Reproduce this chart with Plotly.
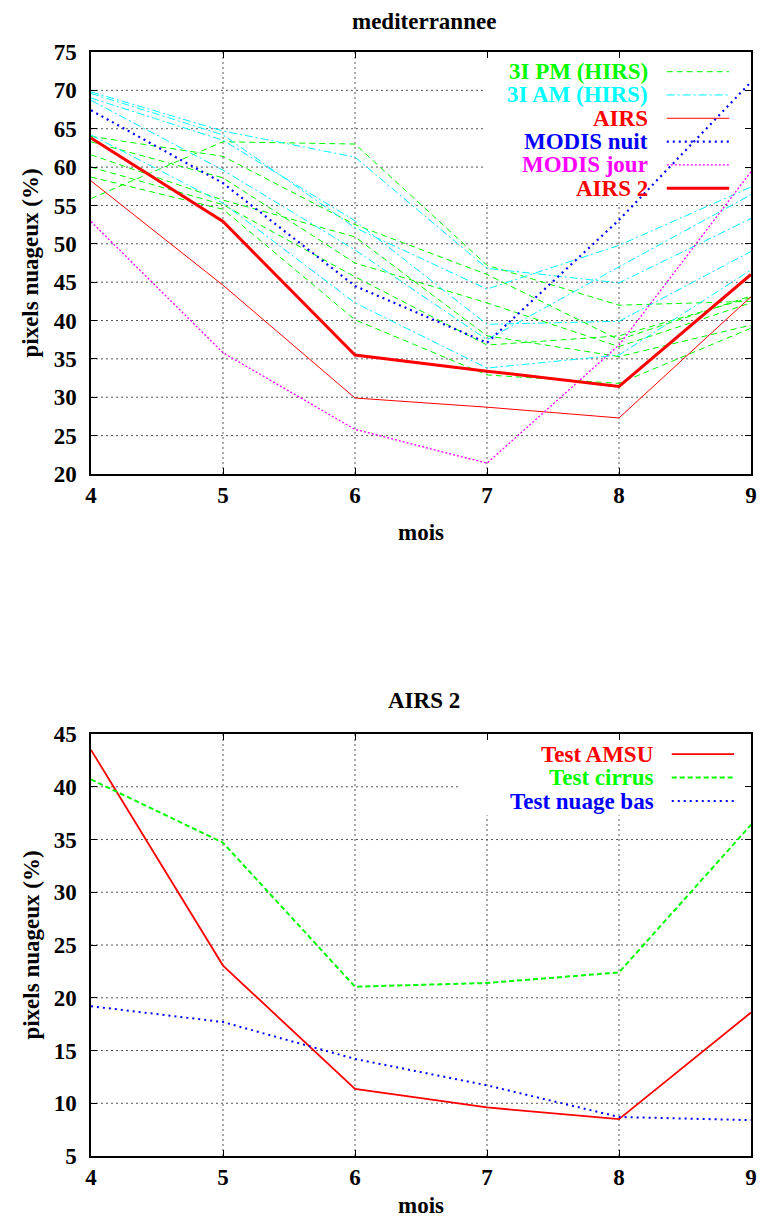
import plotly.graph_objects as go

# ---------------- data ----------------
months = [4, 5, 6, 7, 8, 9]

# 3I PM (HIRS) - several years
pm_hirs = [
    [55.9, 63.3, 63.0, 47.2, 42.0, 42.5],
    [64.0, 61.4, 52.5, 46.0, 37.5, 43.2],
    [63.3, 58.6, 47.5, 42.3, 36.6, 42.3],
    [61.6, 55.7, 50.9, 38.0, 35.3, 39.4],
    [60.0, 55.1, 45.7, 36.8, 38.0, 43.0],
    [58.7, 54.5, 40.1, 32.9, 31.8, 39.0],
]
# 3I AM (HIRS) - several years
am_hirs = [
    [69.8, 64.7, 61.3, 46.8, 44.9, 53.3],
    [69.6, 64.2, 52.1, 44.1, 49.8, 57.4],
    [69.0, 63.5, 53.0, 39.5, 39.9, 49.0],
    [68.7, 59.6, 49.2, 37.5, 47.0, 56.4],
    [64.2, 55.3, 42.3, 33.8, 35.5, 46.6],
]
airs = [58.2, 44.6, 29.9, 28.7, 27.3, 43.1]
modis_nuit = [67.4, 57.9, 44.5, 37.1, 53.1, 71.1]
modis_jour = [52.9, 35.8, 25.8, 21.4, 36.8, 59.4]
airs2 = [63.8, 52.9, 35.5, 33.4, 31.4, 46.0]

test_amsu = [43.5, 23.05, 11.35, 9.6, 8.5, 18.6]
test_cirrus = [40.7, 34.7, 21.05, 21.4, 22.4, 36.4]
test_nuage_bas = [19.2, 17.7, 14.2, 11.7, 8.7, 8.4]

top_yticks = [20, 25, 30, 35, 40, 45, 50, 55, 60, 65, 70, 75]
bot_yticks = [5, 10, 15, 20, 25, 30, 35, 40, 45]

top_title = "mediterrannee"
bottom_title = "AIRS 2"
x_title = "mois"
y_title = "pixels nuageux (%)"

# ---------------- styles ----------------
FONT = "Liberation Serif"
FS = 23
GREEN = "#00FF00"
CYAN = "#00FFFF"
RED = "#FF0000"
BLUE = "#0000FF"
MAGENTA = "#FF00FF"
DASH_PM = "6px,4px"
DASH_AM = "8px,3px,2px,3px"
DOT_BLUE = "2px,4px"
DOT_MAG = "2px,2px"
GRID = dict(color="#555555", width=1, dash="2px,3px")

fig = go.Figure()


def add(x, y, color, dash, width, ax):
    xa, ya = ("x", "y") if ax == 1 else ("x2", "y2")
    fig.add_trace(go.Scatter(x=x, y=y, mode="lines", xaxis=xa, yaxis=ya,
                             line=dict(color=color, dash=dash, width=width),
                             showlegend=False, hoverinfo="skip"))


for s in pm_hirs:
    add(months, s, GREEN, DASH_PM, 1, 1)
for s in am_hirs:
    add(months, s, CYAN, DASH_AM, 1, 1)
add(months, airs, RED, "solid", 1, 1)
add(months, modis_nuit, BLUE, DOT_BLUE, 2.2, 1)
add(months, modis_jour, MAGENTA, DOT_MAG, 1.3, 1)
add(months, airs2, RED, "solid", 3, 1)

add(months, test_amsu, RED, "solid", 1.8, 2)
add(months, test_cirrus, GREEN, "5px,3px", 2, 2)
add(months, test_nuage_bas, BLUE, DOT_BLUE, 2, 2)

axis_common = dict(
    showgrid=False,
    showline=True, linecolor="black", linewidth=1.5, mirror="ticks",
    ticks="inside", ticklen=6, tickcolor="black", tickwidth=1,
    zeroline=False, ticklabeloverflow="allow",
    tickfont=dict(family=FONT, size=FS, color="black", weight="bold"),
)

top_dom = [0.6178, 1.0]
bot_dom = [0.0, 0.3822]

# the page body has an 8px margin: figure is 16px smaller than the window
fig.update_layout(
    width=755, height=1211,
    margin=dict(l=83, r=6, t=44, b=63),
    paper_bgcolor="white", plot_bgcolor="white",
    showlegend=False,
    xaxis=dict(domain=[0, 1], range=[4, 9], dtick=1, anchor="y", **axis_common),
    yaxis=dict(domain=top_dom, range=[20, 75], tickvals=top_yticks, anchor="x",
               ticklabelstandoff=8, **axis_common),
    xaxis2=dict(domain=[0, 1], range=[4, 9], dtick=1, anchor="y2", **axis_common),
    yaxis2=dict(domain=bot_dom, range=[5, 45], tickvals=bot_yticks, anchor="x2",
                ticklabelstandoff=8, **axis_common),
)

fnt = lambda c="black", s=FS: dict(family=FONT, size=s, color=c, weight="bold")
ann = []
ann.append(dict(text=top_title, xref="paper", yref="paper", x=0.5045, y=1.0272,
                xanchor="center", yanchor="middle", showarrow=False, font=fnt()))
ann.append(dict(text=bottom_title, xref="paper", yref="paper", x=0.5045, y=0.413,
                xanchor="center", yanchor="middle", showarrow=False, font=fnt()))
for yp in (0.5652, -0.0444):
    ann.append(dict(text=x_title, xref="paper", yref="paper", x=0.5, y=yp,
                    xanchor="center", yanchor="middle", showarrow=False, font=fnt()))
for ydom in ("y domain", "y2 domain"):
    ann.append(dict(text=y_title, xref="paper", yref=ydom, x=-0.0916, y=0.5,
                    textangle=-90, xanchor="center", yanchor="middle",
                    showarrow=False, font=fnt()))

shapes = []


def grid(xr, yr, yticks, ymin, ymax, key_x, key_y):
    # horizontal grid lines (interrupted by the key box)
    for v in yticks:
        if v in (ymin, ymax):
            continue
        x1 = key_x if v >= key_y else 9
        shapes.append(dict(type="line", xref=xr, yref=yr, x0=4, x1=x1, y0=v, y1=v,
                           line=GRID, layer="below"))
    for v in months[1:-1]:
        y1 = key_y if v >= key_x else ymax
        shapes.append(dict(type="line", xref=xr, yref=yr, x0=v, x1=v, y0=ymin, y1=y1,
                           line=GRID, layer="below"))


grid("x", "y", top_yticks, 20, 75, 6.973, 55.3)
grid("x2", "y2", bot_yticks, 5, 45, 6.78, 37.3)

top_key = [
    ("3I PM (HIRS)", GREEN, DASH_PM, 1),
    ("3I AM (HIRS)", CYAN, DASH_AM, 1),
    ("AIRS", RED, "solid", 1),
    ("MODIS nuit", BLUE, DOT_BLUE, 2.2),
    ("MODIS jour", MAGENTA, DOT_MAG, 1.3),
    ("AIRS 2", RED, "solid", 3),
]
bot_key = [
    ("Test AMSU", RED, "solid", 1.8),
    ("Test cirrus", GREEN, "5px,3px", 2),
    ("Test nuage bas", BLUE, DOT_BLUE, 2),
]


def key(entries, xr, yr, y0, dy, xt, xl0, xl1):
    for i, (name, col, dash, w) in enumerate(entries):
        yy = y0 - i * dy
        ann.append(dict(text=name, xref=xr, yref=yr, x=xt, y=yy, xanchor="right",
                        yanchor="middle", showarrow=False, font=fnt(col, 23)))
        shapes.append(dict(type="line", xref=xr, yref=yr, x0=xl0, x1=xl1, y0=yy, y1=yy,
                           line=dict(color=col, dash=dash, width=w), layer="above"))


key(top_key, "x domain", "y domain", 0.9533, 0.0552, 0.8468, 0.8724, 0.967)
key(bot_key, "x2 domain", "y2 domain", 0.9526, 0.0557, 0.8559, 0.8799, 0.9745)

fig.update_layout(annotations=ann, shapes=shapes)
fig.write_html("out.html")
